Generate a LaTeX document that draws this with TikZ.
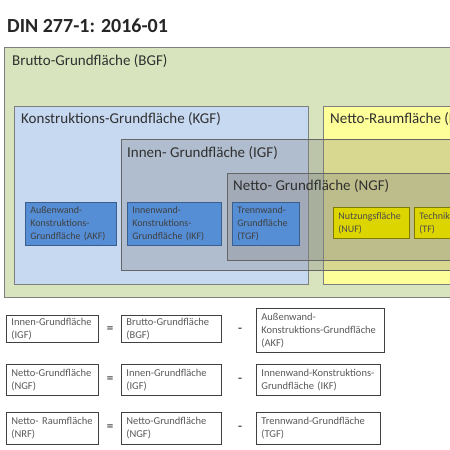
\documentclass[tikz,border=0pt]{standalone}
\usepackage{fontspec}
\setmainfont{Carlito}
\definecolor{bgfgreen}{HTML}{D7E4BD}
\definecolor{kgfblue}{HTML}{C6D9F1}
\definecolor{nrfyellow}{HTML}{FFFF99}
\definecolor{boxgray}{HTML}{7F7F7F}
\definecolor{smallblue}{HTML}{558ED5}
\definecolor{smallblueborder}{HTML}{3A5F8F}
\definecolor{smallyellow}{HTML}{DDD500}
\definecolor{smallyellowborder}{HTML}{7F7A00}
\definecolor{txtgray}{HTML}{595959}
\definecolor{labeltxt}{HTML}{303030}
\begin{document}
\begin{tikzpicture}[x=1pt,y=-1pt,
  area/.style={draw=boxgray, line width=0.8pt},
  overlay/.style={draw=black!60, line width=0.8pt, fill=boxgray, fill opacity=0.3},
  biglabel/.style={anchor=base west, inner sep=0pt, font=\fontsize{15}{17}\selectfont, text=labeltxt},
  bluebox/.style={draw=smallblueborder, fill=smallblue, line width=0.8pt, anchor=north west,
    align=left, inner xsep=5pt, inner ysep=0pt, text=black!75,
    font=\fontsize{10}{13}\selectfont},
  yelbox/.style={draw=smallyellowborder, fill=smallyellow, line width=0.8pt, anchor=north west,
    align=left, inner xsep=5pt, inner ysep=0pt, text=black!70,
    font=\fontsize{10}{13}\selectfont},
  eqbox/.style={draw=black!75, line width=0.8pt, anchor=north west, align=left,
    inner xsep=5pt, inner ysep=0pt, text=txtgray, font=\fontsize{10.5}{13}\selectfont},
  optxt/.style={text=txtgray, font=\fontsize{13}{14}\selectfont\bfseries, inner sep=0pt}
]
\useasboundingbox (0,0) rectangle (450,450);
\clip (0,0) rectangle (450,450);
\fill[white] (0,0) rectangle (450,450);

% title
\node[anchor=base west, inner sep=0pt, font=\fontsize{20}{22}\selectfont\bfseries, text=black!85] (title) at (7,32) {DIN 277-1: 2016-01};

% large areas
\path[area, fill=bgfgreen] (4,47) rectangle (470,297);
\node[biglabel] (bgf) at (12,65) {Brutto-Grundfläche (BGF)};

\path[area, fill=kgfblue] (14,106) rectangle (308,284);
\node[biglabel] (kgf) at (21,123) {Konstruktions-Grundfläche (KGF)};

\path[area, fill=nrfyellow] (323,106) rectangle (470,284);
\node[biglabel] (nrf) at (330,123) {Netto-Raumfläche (NRF)};

\path[overlay] (121,139) rectangle (470,270);
\node[biglabel] (igf) at (127,157) {Innen- Grundfläche (IGF)};

\path[overlay] (227,173) rectangle (470,260);
\node[biglabel] (ngf) at (233,190) {Netto- Grundfläche (NGF)};

% small boxes
\node[bluebox, minimum width=91pt, minimum height=43pt, text width=81pt] (akf) at (25,202)
  {Außenwand-\\Konstruktions-\\Grundfläche (AKF)};
\node[bluebox, minimum width=94pt, minimum height=43pt, text width=84pt] (ikf) at (127,202)
  {Innenwand-\\Konstruktions-\\Grundfläche (IKF)};
\node[bluebox, minimum width=67pt, minimum height=43pt, text width=57pt] (tgf) at (232,202)
  {Trennwand-\\Grundfläche\\(TGF)};
\node[yelbox, minimum width=76pt, minimum height=31pt, text width=66pt] (nuf) at (333,207)
  {Nutzungsfläche\\(NUF)};
\node[yelbox, minimum width=76pt, minimum height=31pt, text width=66pt] (tf) at (414,207)
  {Technikfläche\\(TF)};

% equations
\node[eqbox, minimum width=92pt, minimum height=27pt, text width=82pt] (e1a) at (6,315)
  {Innen-Grundfläche\\(IGF)};
\node[optxt] (e1eq) at (110,330) {=};
\node[eqbox, minimum width=100pt, minimum height=27pt, text width=90pt] (e1b) at (121,315)
  {Brutto-Grundfläche\\(BGF)};
\node[optxt] (e1mi) at (240,330) {-};
\node[eqbox, minimum width=128pt, minimum height=44pt, text width=118pt] (e1c) at (256,308)
  {Außenwand-\\Konstruktions-Grundfläche\\(AKF)};

\node[eqbox, minimum width=92pt, minimum height=31pt, text width=82pt] (e2a) at (6,364)
  {Netto-Grundfläche\\(NGF)};
\node[optxt] (e2eq) at (110,380) {=};
\node[eqbox, minimum width=100pt, minimum height=31pt, text width=90pt] (e2b) at (121,364)
  {Innen-Grundfläche\\(IGF)};
\node[optxt] (e2mi) at (240,380) {-};
\node[eqbox, minimum width=124pt, minimum height=31pt, text width=114pt] (e2c) at (256,364)
  {Innenwand-Konstruktions-\\Grundfläche (IKF)};

\node[eqbox, minimum width=92pt, minimum height=32pt, text width=82pt] (e3a) at (6,412)
  {\mbox{Netto-\hspace{3.5pt}Raumfläche}\\(NRF)};
\node[optxt] (e3eq) at (110,428) {=};
\node[eqbox, minimum width=100pt, minimum height=32pt, text width=90pt] (e3b) at (121,412)
  {Netto-Grundfläche\\(NGF)};
\node[optxt] (e3mi) at (240,428) {-};
\node[eqbox, minimum width=124pt, minimum height=32pt, text width=114pt] (e3c) at (256,412)
  {Trennwand-Grundfläche\\(TGF)};
\end{tikzpicture}
\end{document}
